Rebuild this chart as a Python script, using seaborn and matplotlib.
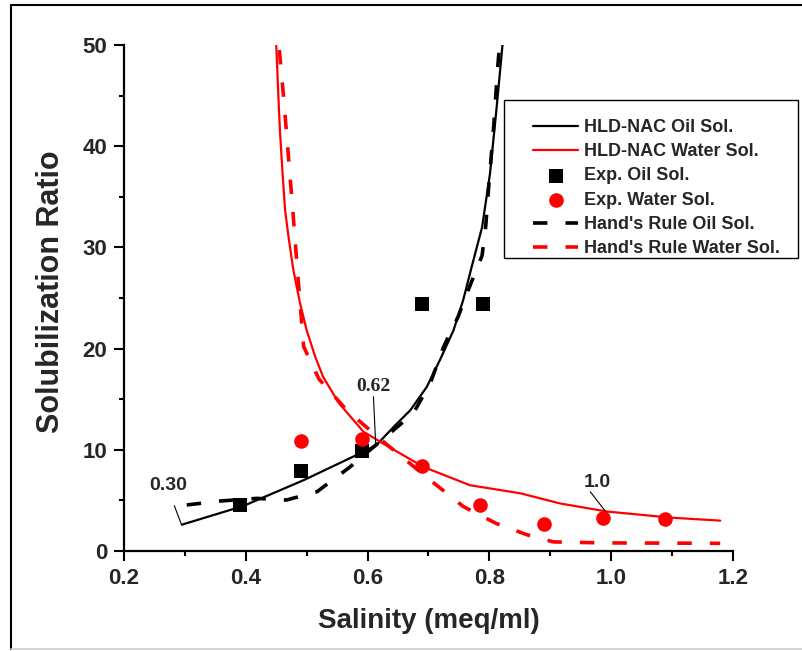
import numpy as np
import pandas as pd
import matplotlib
matplotlib.use("Agg")
import matplotlib.pyplot as plt
import seaborn as sns
from matplotlib.lines import Line2D
from matplotlib.patches import Rectangle

# ---- data ----
nac_oil_x = [0.295, 0.396, 0.495, 0.593, 0.615, 0.645, 0.670, 0.697, 0.719, 0.741, 0.757, 0.771, 0.788, 0.801, 0.812, 0.8215]
nac_oil_y = [2.6, 4.45, 7.0, 9.8, 10.5, 12.4, 13.9, 16.2, 18.9, 21.8, 24.8, 28.1, 32.0, 37.3, 43.9, 50.0]

nac_wat_x = [0.450, 0.4535, 0.456, 0.4607, 0.4645, 0.470, 0.478, 0.489, 0.500, 0.514, 0.527, 0.553, 0.593, 0.626, 0.692, 0.768, 0.851, 0.916, 0.993, 1.097, 1.179]
nac_wat_y = [50.0, 44.9, 41.6, 37.0, 33.7, 31.1, 27.8, 24.5, 21.8, 19.2, 17.2, 14.6, 11.8, 10.6, 8.3, 6.5, 5.7, 4.7, 3.9, 3.3, 3.0]

exp_oil_x = [0.39, 0.49, 0.59, 0.69, 0.79]
exp_oil_y = [4.5, 7.9, 9.9, 24.4, 24.4]

exp_wat_x = [0.49, 0.59, 0.69, 0.785, 0.889, 0.986, 1.088]
exp_wat_y = [10.9, 11.1, 8.35, 4.5, 2.65, 3.3, 3.15]

hand_oil_x = [0.303, 0.358, 0.418, 0.467, 0.517, 0.571, 0.626, 0.675, 0.703, 0.725, 0.749, 0.766, 0.788, 0.794, 0.798, 0.807, 0.8135, 0.816]
hand_oil_y = [4.55, 4.94, 5.2, 5.04, 5.86, 8.3, 11.1, 13.6, 16.6, 20.2, 23.2, 25.9, 29.2, 32.1, 35.4, 41.9, 47.7, 49.5]

hand_wat_x = [0.455, 0.462, 0.470, 0.478, 0.486, 0.495, 0.520, 0.566, 0.626, 0.705, 0.757, 0.812, 0.862, 0.905, 0.987, 1.179]
hand_wat_y = [49.5, 44.9, 39.0, 33.0, 26.8, 20.2, 17.0, 13.9, 10.8, 6.9, 4.4, 2.7, 1.6, 0.9, 0.8, 0.76]

labels = ["HLD-NAC Oil Sol.", "HLD-NAC Water Sol.", "Exp. Oil Sol.",
          "Exp. Water Sol.", "Hand's Rule Oil Sol.", "Hand's Rule Water Sol."]

xticks = [0.2, 0.4, 0.6, 0.8, 1.0, 1.2]
yticks = [0, 10, 20, 30, 40, 50]

sns.set_style("ticks")
plt.rcParams['font.family'] = ['Liberation Sans', 'DejaVu Sans']
plt.rcParams['font.weight'] = 'bold'

fig = plt.figure(figsize=(8.02, 6.51), dpi=100)
ax = fig.add_axes([124/802, 1-551/651, (733-124)/802, (551-45)/651])

dash = (0, (4, 5))
sns.lineplot(x=nac_oil_x, y=nac_oil_y, ax=ax, color="black", lw=1.6, sort=False,
             estimator=None, label=labels[0])
sns.lineplot(x=nac_wat_x, y=nac_wat_y, ax=ax, color="red", lw=1.6, sort=False,
             estimator=None, label=labels[1])
sns.scatterplot(x=exp_oil_x, y=exp_oil_y, ax=ax, color="black", marker="s", s=90,
                linewidth=0, label=labels[2], zorder=5)
sns.scatterplot(x=exp_wat_x, y=exp_wat_y, ax=ax, color="red", marker="o", s=110,
                linewidth=0, label=labels[3], zorder=5)
sns.lineplot(x=hand_oil_x, y=hand_oil_y, ax=ax, color="black", lw=2.6, sort=False,
             estimator=None, linestyle=dash, label=labels[4])
sns.lineplot(x=hand_wat_x, y=hand_wat_y, ax=ax, color="red", lw=2.6, sort=False,
             estimator=None, linestyle=dash, label=labels[5])

ax.set_xlim(0.2, 1.2)
ax.set_ylim(0, 50)
ax.set_xticks(xticks)
ax.set_yticks(yticks)
ax.set_xticks(np.arange(0.3, 1.2, 0.2), minor=True)
ax.set_yticks(np.arange(5, 50, 10), minor=True)
ax.set_xticklabels([f"{v:.1f}" for v in xticks], fontsize=16, fontweight="bold")
ax.set_yticklabels([str(v) for v in yticks], fontsize=16, fontweight="bold")
ax.tick_params(which="major", length=7, width=1.5, direction="out", color="black", pad=5)
ax.tick_params(which="minor", length=3.5, width=1.5, direction="out", color="black")
sns.despine(ax=ax)
for s in ["left", "bottom"]:
    ax.spines[s].set_linewidth(1.6)
    ax.spines[s].set_color("black")

ax.set_xlabel("Salinity (meq/ml)", fontsize=20, fontweight="bold", labelpad=14)
ax.set_ylabel("Solubilization Ratio", fontsize=22, fontweight="bold", labelpad=12)
ax.yaxis.set_label_coords(-0.096, 0.512)

# annotations
line_kw = dict(arrowstyle="-", color="black", lw=0.8, shrinkA=0, shrinkB=0)
ax.text(0.272, 6.5, "0.30", fontsize=14, fontweight="bold", ha="center", va="center")
ax.annotate("", xy=(0.294, 2.67), xytext=(0.2826, 4.48), arrowprops=line_kw)
ax.text(0.609, 16.3, "0.62", fontsize=14, fontweight="bold", family="Liberation Serif",
        ha="center", va="center")
ax.annotate("", xy=(0.6135, 10.3), xytext=(0.6096, 15.25), arrowprops=line_kw)
ax.text(0.978, 6.75, "1.0", fontsize=14, fontweight="bold", ha="center", va="center")
ax.annotate("", xy=(0.9973, 3.39), xytext=(0.9656, 5.86), arrowprops=line_kw)

handles, labs = ax.get_legend_handles_labels()
leg = ax.legend(handles, labs, loc="upper left", bbox_to_anchor=(533/802, 1-119/651),
                bbox_transform=fig.transFigure, frameon=False,
                prop={"weight": "bold", "size": 13},
                handlelength=2.5, handletextpad=0.3, labelspacing=0.4,
                borderpad=0, borderaxespad=0)
fig.add_artist(Rectangle((504/802, 1-258/651), (798-504)/802, (258-100)/651,
                         transform=fig.transFigure, fill=False, edgecolor="black", lw=1.0))

# outer frame
fig.add_artist(Line2D([11/802, 1.0], [1-5/651, 1-5/651], transform=fig.transFigure, color="black", lw=1.5))
fig.add_artist(Line2D([11/802, 11/802], [1-5/651, 1-649/651], transform=fig.transFigure, color="black", lw=1.5))
fig.add_artist(Line2D([11/802, 1.0], [1-649/651, 1-649/651], transform=fig.transFigure, color="#cccccc", lw=1.2))

fig.savefig("out.png", dpi=100)
